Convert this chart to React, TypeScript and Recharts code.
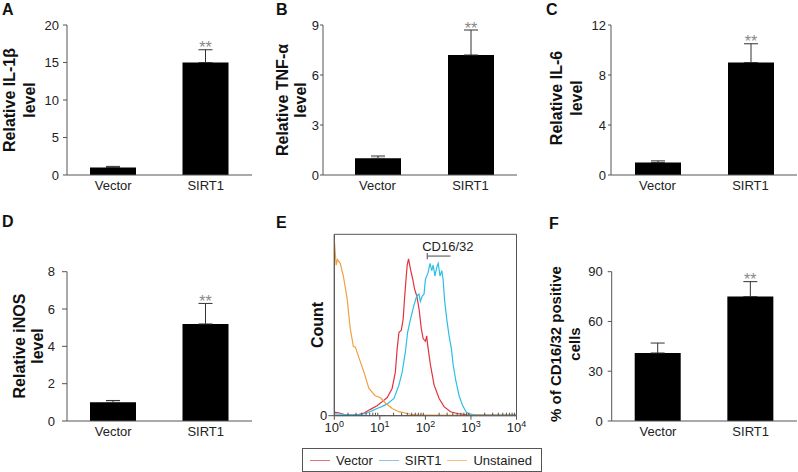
import React from 'react';
import {
  BarChart, Bar, XAxis, YAxis, ErrorBar, LabelList,
  LineChart, Line, ReferenceArea, ReferenceLine,
} from 'recharts';

const FONT = '"Liberation Sans", Arial, Helvetica, sans-serif';
const AXIS = '#555';
const INK = '#222';

// ---- bar panels (A, B, C, D, F) ----
const groups = ['Vector', 'SIRT1'];
const significance = ['', '**'];

const il1bMean = [1.0, 15.0];
const il1bErr = [0.15, 1.7];
const il1bTicks = [0, 5, 10, 15, 20];

const tnfMean = [1.0, 7.2];
const tnfErr = [0.14, 1.5];
const tnfTicks = [0, 3, 6, 9];

const il6Mean = [1.0, 9.0];
const il6Err = [0.13, 1.5];
const il6Ticks = [0, 4, 8, 12];

const inosMean = [1.0, 5.2];
const inosErr = [0.1, 1.1];
const inosTicks = [0, 2, 4, 6, 8];

const cdMean = [41, 75];
const cdErr = [6, 9];
const cdTicks = [0, 30, 60, 90];

// ---- flow cytometry histogram (E) ----
const vectorChannel = [1, 1.3, 1.8, 2.5, 3.5, 4.5, 6.2, 8.7, 11, 14.5, 18.6, 21.9, 24, 26.3, 29.5, 32.4, 34.7, 37.2, 39.8, 42.7, 46.8, 52.5, 57.5, 64.6, 72.4, 81.3, 89.1, 100, 107, 112, 129, 155, 200, 257, 355, 501, 832, 1585, 10000];
const vectorCount = [2, 1.5, 0.4, 0.3, 0.8, 1.5, 3.5, 5.5, 7.5, 10, 15, 24, 37, 46, 47, 53, 64, 74, 83, 86.5, 81, 75.5, 70, 66, 59, 48, 42.5, 41, 44, 39, 28, 17, 9.5, 5, 2.2, 1.2, 0.5, 0.3, 0.3];

const sirt1Channel = [1, 1.5, 2.2, 3.5, 4.8, 6.5, 8.7, 11, 14.5, 20.4, 26.3, 30.9, 36.3, 40.7, 46.8, 56.2, 64.6, 72.4, 77.6, 85.1, 93.3, 100, 115, 126, 138, 148, 162, 178, 191, 209, 229, 245, 263, 295, 331, 372, 407, 468, 550, 646, 776, 912, 1259, 10000];
const sirt1Count = [1, 0.8, 0.4, 0.5, 1.2, 2.5, 4, 5, 6.5, 9.5, 17, 24, 35, 46, 53, 61, 66, 67, 63, 66, 67, 75, 79, 84, 80, 83, 77, 82, 84, 77, 80, 75, 64, 53, 44, 37, 28, 19, 11, 6, 2.2, 1, 0.5, 0.3];

const unstainedChannel = [1, 1.05, 1.1, 1.17, 1.35, 1.58, 1.9, 2.24, 2.63, 2.88, 3.47, 4.47, 5.75, 7.9, 10.2, 13.2, 18.6, 26.3, 46.8, 77.6, 126, 1000, 10000];
const unstainedCount = [97, 90, 83, 86, 84, 77, 65, 48, 38, 38, 32, 24, 15, 11, 10, 7, 4, 2.2, 0.8, 0.3, 0.3, 0.2, 0.2];

const majorLogTicks = [1, 10, 100, 1000, 10000];
const gate = [110, 355]; // CD16/32 positive gate (channel)
const gateLevel = 88;

const zip = (ch: number[], ct: number[]) => ch.map((c, i) => ({ channel: c, count: ct[i] }));

const histogramSeries = [
  { name: 'Vector', color: '#e2323c', legendColor: '#e2727a', data: zip(vectorChannel, vectorCount) },
  { name: 'SIRT1', color: '#2bbfe6', legendColor: '#8cc4dc', data: zip(sirt1Channel, sirt1Count) },
  { name: 'Unstained', color: '#f0a040', legendColor: '#f2c088', data: zip(unstainedChannel, unstainedCount) },
];

const logTicks: number[] = [];
majorLogTicks.forEach((m, i) => {
  logTicks.push(m);
  if (i < majorLogTicks.length - 1) for (let k = 2; k < 10; k++) logTicks.push(m * k);
});

type Margin = { top: number; right: number; bottom: number; left: number };

interface BarPanelProps {
  left: number;
  top: number;
  width: number;
  height: number;
  margin: Margin;
  mean: number[];
  err: number[];
  ticks: number[];
  title: string[];
  titleX: number[];
  titleY: number;
  titleSize?: number;
  tickSize: number;
  tickMargin: number;
  padLeft?: number;
}

function rotatedTitle(lines: string[], xs: number[], cy: number, size: number) {
  return () => (
    <text
      transform={`translate(0, ${cy}) rotate(-90)`}
      textAnchor="middle"
      fontFamily={FONT}
      fontWeight="bold"
      fontSize={size}
      fill="#111"
    >
      {lines.map((l, i) => (
        <tspan key={i} x={0} y={xs[i]}>{l}</tspan>
      ))}
    </text>
  );
}

function BarPanel(p: BarPanelProps) {
  const data = groups.map((g, i) => ({ group: g, mean: p.mean[i], err: [0, p.err[i]], sig: significance[i] }));
  const max = p.ticks[p.ticks.length - 1];

  const sigLabel = (props: any) => {
    const vb = props.viewBox ?? props;
    const x = vb.x ?? props.x;
    const y = vb.y ?? props.y;
    const w = vb.width ?? props.width;
    const h = vb.height ?? props.height;
    const i = typeof props.index === 'number' ? props.index : significance.indexOf(props.value);
    if (i < 0 || !significance[i]) return null;
    const errTop = y - p.err[i] * (h / p.mean[i]);
    return (
      <text x={x + w / 2} y={errTop + 3.5} textAnchor="middle" fontSize={16} fill="#888" fontFamily={FONT}>
        {significance[i]}
      </text>
    );
  };

  return (
    <div style={{ position: 'absolute', left: p.left, top: p.top }}>
      <BarChart width={p.width} height={p.height} data={data} margin={p.margin} barCategoryGap={0}>
        <XAxis
          dataKey="group"
          height={20}
          tickLine={false}
          tickSize={0}
          tickMargin={6}
          axisLine={{ stroke: AXIS }}
          padding={{ left: p.padLeft ?? 0, right: 0 }}
          tick={{ fill: INK, fontSize: 13, fontFamily: FONT }}
        />
        <YAxis
          type="number"
          domain={[0, max]}
          ticks={p.ticks}
          width={30}
          tickSize={p.tickSize}
          tickMargin={p.tickMargin}
          axisLine={{ stroke: AXIS }}
          tickLine={{ stroke: AXIS }}
          tick={{ fill: INK, fontSize: 13, fontFamily: FONT }}
          label={rotatedTitle(p.title, p.titleX, p.titleY, p.titleSize ?? 16)}
        />
        <Bar dataKey="mean" fill="#000" barSize={46} isAnimationActive={false}>
          <ErrorBar dataKey="err" direction="y" width={7} stroke="#333" strokeWidth={1} />
          <LabelList dataKey="sig" content={sigLabel} />
        </Bar>
      </BarChart>
    </div>
  );
}

const LOG_TICK_SIZE = 4;
const LOG_TICK_MARGIN = 3;

function LogTick(props: any) {
  const { x, y, payload } = props;
  const v = payload.value;
  const lg = Math.log10(v);
  const exp = Math.round(lg);
  const axisY = y - LOG_TICK_SIZE - LOG_TICK_MARGIN;
  if (Math.abs(lg - exp) > 1e-6) {
    return <line x1={x} x2={x} y1={axisY} y2={axisY - 3} stroke={AXIS} strokeWidth={1} />;
  }
  return (
    <g>
      <line x1={x} x2={x} y1={axisY} y2={axisY + 4} stroke={AXIS} strokeWidth={1} />
      <text x={x} y={axisY + 16} textAnchor="middle" fontSize={13} fill={INK} fontFamily={FONT}>
        10<tspan dy={-5} fontSize={9}>{exp}</tspan>
      </text>
    </g>
  );
}

function FlowPanel() {
  return (
    <div style={{ position: 'absolute', left: 262, top: 230 }}>
      <LineChart width={280} height={215} margin={{ top: 4.3, right: 25.5, bottom: 7.3, left: 42.3 }}>
        <XAxis
          type="number"
          dataKey="channel"
          scale="log"
          domain={[1, 10000]}
          allowDataOverflow
          ticks={logTicks}
          interval={0}
          height={22}
          tickSize={LOG_TICK_SIZE}
          tickMargin={LOG_TICK_MARGIN}
          tickLine={false}
          axisLine={{ stroke: AXIS }}
          tick={LogTick}
        />
        <YAxis
          type="number"
          domain={[0, 100]}
          ticks={[0]}
          width={30}
          tickSize={6}
          tickMargin={1}
          axisLine={{ stroke: AXIS }}
          tickLine={{ stroke: AXIS }}
          tick={{ fill: INK, fontSize: 13, fontFamily: FONT }}
          label={rotatedTitle(['Count'], [61], 95, 16)}
        />
        <ReferenceArea x1={1} x2={10000} y1={0} y2={100} fill="none" stroke={AXIS} strokeWidth={1} />
        {histogramSeries.map((s) => (
          <Line
            key={s.name}
            name={s.name}
            data={s.data}
            dataKey="count"
            type="linear"
            stroke={s.color}
            strokeWidth={1.2}
            dot={false}
            isAnimationActive={false}
          />
        ))}
        <ReferenceLine
          segment={[{ x: gate[0], y: gateLevel }, { x: gate[1], y: gateLevel }]}
          stroke="#666"
          strokeWidth={1.2}
          label={{ value: 'CD16/32', position: 'top', dx: 9, fill: INK, fontSize: 13, fontFamily: FONT }}
        />
        <ReferenceLine
          segment={[{ x: gate[0], y: gateLevel - 1.7 }, { x: gate[0], y: gateLevel + 1.7 }]}
          stroke="#666"
          strokeWidth={1.2}
        />
      </LineChart>
    </div>
  );
}

function FlowLegend() {
  return (
    <div
      style={{
        position: 'absolute',
        left: 302,
        top: 448,
        width: 240,
        height: 24,
        boxSizing: 'border-box',
        border: '1px solid #555',
        display: 'flex',
        alignItems: 'center',
        paddingLeft: 7,
        fontFamily: FONT,
        fontSize: 13,
        color: INK,
      }}
    >
      {histogramSeries.map((s) => (
        <div key={s.name} style={{ display: 'flex', alignItems: 'center', marginRight: 6 }}>
          <div style={{ width: 20, height: 0, borderTop: `1.5px solid ${s.legendColor}`, marginRight: 6 }} />
          <span>{s.name}</span>
        </div>
      ))}
    </div>
  );
}

const panelLetters = [
  { t: 'A', x: 2, y: 15 },
  { t: 'B', x: 276, y: 15 },
  { t: 'C', x: 546, y: 15 },
  { t: 'D', x: 2, y: 227 },
  { t: 'E', x: 276, y: 228 },
  { t: 'F', x: 549, y: 229 },
];

export default function App() {
  return (
    <div
      style={{
        position: 'absolute',
        left: 0,
        top: 0,
        width: 798,
        height: 472,
        background: '#fff',
        overflow: 'hidden',
        fontFamily: FONT,
      }}
    >
      <BarPanel
        left={0} top={0} width={262} height={200}
        margin={{ top: 25, right: 10, bottom: 5, left: 37 }}
        mean={il1bMean} err={il1bErr} ticks={il1bTicks}
        title={['Relative IL-1β', 'level']} titleX={[15, 34.5]} titleY={100}
        tickSize={4} tickMargin={4}
      />
      <BarPanel
        left={262} top={0} width={262} height={200}
        margin={{ top: 25, right: 7, bottom: 5, left: 31 }}
        mean={tnfMean} err={tnfErr} ticks={tnfTicks}
        title={['Relative TNF-α', 'level']} titleX={[25.5, 43.5]} titleY={100}
        tickSize={3} tickMargin={1} padLeft={8}
      />
      <BarPanel
        left={524} top={0} width={274} height={200}
        margin={{ top: 25, right: 1, bottom: 5, left: 57 }}
        mean={il6Mean} err={il6Err} ticks={il6Ticks}
        title={['Relative IL-6', 'level']} titleX={[38, 57.5]} titleY={98}
        tickSize={3} tickMargin={2}
      />
      <BarPanel
        left={0} top={230} width={262} height={215}
        margin={{ top: 41.7, right: 10, bottom: 4, left: 37 }}
        mean={inosMean} err={inosErr} ticks={inosTicks}
        title={['Relative iNOS', 'level']} titleX={[25, 43]} titleY={116}
        tickSize={5} tickMargin={7}
      />
      <BarPanel
        left={524} top={230} width={274} height={215}
        margin={{ top: 41.7, right: 1, bottom: 4, left: 57.7 }}
        mean={cdMean} err={cdErr} ticks={cdTicks}
        title={['% of CD16/32 positive', 'cells']} titleX={[37, 56]} titleY={114} titleSize={15}
        tickSize={4} tickMargin={5}
      />
      <FlowPanel />
      <FlowLegend />
      <svg
        width={798}
        height={472}
        style={{ position: 'absolute', left: 0, top: 0, pointerEvents: 'none' }}
      >
        {panelLetters.map((l) => (
          <text key={l.t} x={l.x} y={l.y} fontFamily={FONT} fontWeight="bold" fontSize={16} fill="#111">
            {l.t}
          </text>
        ))}
      </svg>
    </div>
  );
}
